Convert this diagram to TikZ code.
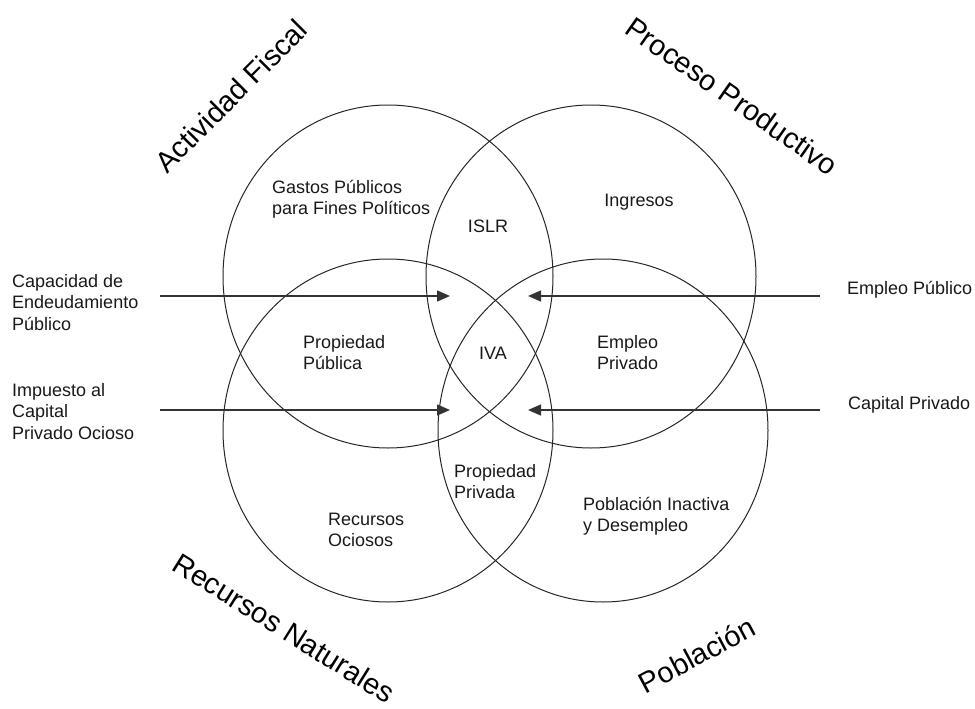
\documentclass[tikz,border=0pt]{standalone}
\usepackage{fontspec}
\setmainfont{Liberation Sans}
\usetikzlibrary{shapes.geometric,arrows.meta}
\begin{document}
\begin{tikzpicture}[x=1pt,y=-1pt,
  set/.style={draw=black!85,line width=1pt,ellipse,minimum width=330pt,minimum height=343pt,inner sep=0pt},
  lbl/.style={font=\fontsize{18}{21.5}\selectfont,align=left,inner sep=0pt,text=black!90},
  title/.style={font=\fontsize{29}{32}\selectfont,inner sep=0pt},
  flow/.style={draw=black!80,line width=1.4pt,-{Triangle[length=13pt,width=11pt]}}]
\useasboundingbox (0,0) rectangle (975,709);

% the four overlapping sets
\node[set] (fiscal)     at (388,276.5) {};
\node[set] (productivo) at (591,276.5) {};
\node[set] (naturales)  at (388,430.5) {};
\node[set] (poblacion)  at (603,430.5) {};

% set titles
\node[title,rotate=45]  (tfiscal) at (231,96)  {Actividad Fiscal};
\node[title,rotate=-35] (tprod)   at (732,96)  {Proceso Productivo};
\node[title,rotate=-32] (tnat)    at (284,628) {Recursos Naturales};
\node[title,rotate=28]  (tpob)    at (697,655) {Población};

% region labels
\node[lbl,anchor=west] (gastos)   at (272,199)   {Gastos Públicos\\para Fines Políticos};
\node[lbl]             (islr)     at (488,226)   {ISLR};
\node[lbl]             (ingresos) at (639,202)   {Ingresos};
\node[lbl,anchor=west] (propub)   at (303,352.5) {Propiedad\\Pública};
\node[lbl]             (iva)      at (493,353)   {IVA};
\node[lbl,anchor=west] (emppriv)  at (597,352.5) {Empleo\\Privado};
\node[lbl,anchor=west] (propriv)  at (454,481.5) {Propiedad\\Privada};
\node[lbl,anchor=west] (ociosos)  at (328,530)   {Recursos\\Ociosos};
\node[lbl,anchor=west] (inactiva) at (583,516)   {Población Inactiva\\y Desempleo};

% outer labels
\node[lbl,anchor=west] (capacidad) at (12,302.5)  {Capacidad de\\Endeudamiento\\Público};
\node[lbl,anchor=west] (impuesto)  at (12,411.5)  {Impuesto al\\Capital\\Privado Ocioso};
\node[lbl,anchor=west] (emppub)    at (847,290)   {Empleo Público};
\node[lbl,anchor=west] (capriv)    at (848,405)   {Capital Privado};

% arrow end points
\coordinate (a1s) at (160,296); \coordinate (a1e) at (450,296);
\coordinate (a2s) at (160,410); \coordinate (a2e) at (450,410);
\coordinate (a3s) at (820,296); \coordinate (a3e) at (528,296);
\coordinate (a4s) at (820,410); \coordinate (a4e) at (528,410);

\draw[flow] (a1s) -- (a1e);
\draw[flow] (a2s) -- (a2e);
\draw[flow] (a3s) -- (a3e);
\draw[flow] (a4s) -- (a4e);
\end{tikzpicture}
\end{document}
